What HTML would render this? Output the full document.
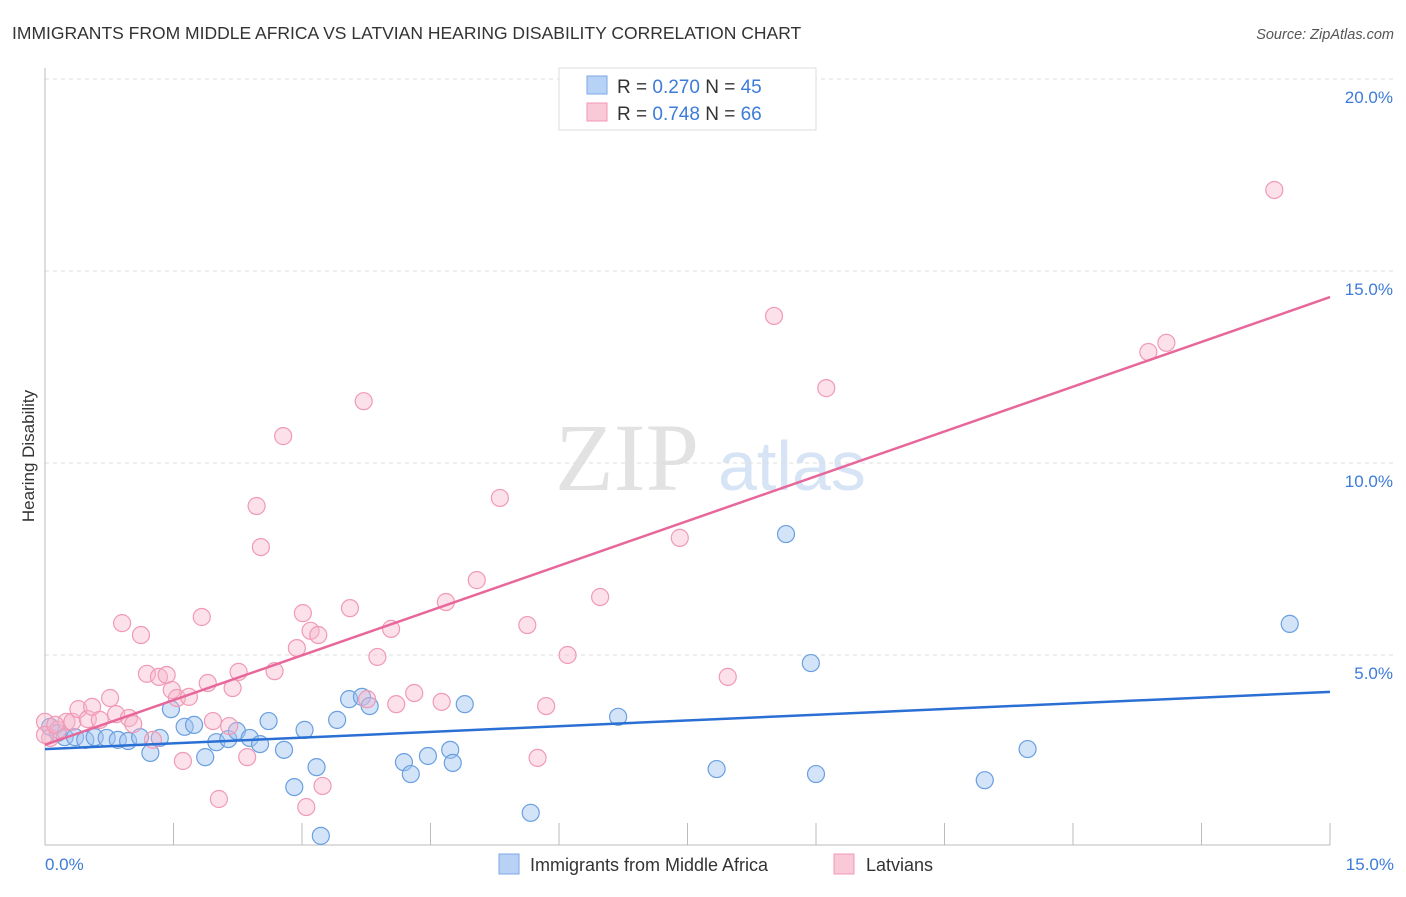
<!DOCTYPE html>
<html><head><meta charset="utf-8"><style>
body{margin:0;background:#fff;font-family:"Liberation Sans",sans-serif;}
</style></head><body>
<svg width="1406" height="892" xmlns="http://www.w3.org/2000/svg" font-family="Liberation Sans, sans-serif">
<text x="12" y="39" font-size="17.5" fill="#333">IMMIGRANTS FROM MIDDLE AFRICA VS LATVIAN HEARING DISABILITY CORRELATION CHART</text>
<text x="1394" y="39" font-size="14.5" fill="#555" font-style="italic" text-anchor="end">Source: ZipAtlas.com</text>
<text x="555" y="490" font-size="96" fill="#e2e2e2" font-family="Liberation Serif, serif">ZIP</text>
<text x="718" y="490" font-size="70" fill="#d6e4f5">atlas</text>
<g id="grid"></g>
<line x1="45" y1="68" x2="45" y2="845" stroke="#bbb"/>
<line x1="45" y1="845" x2="1330" y2="845" stroke="#bbb"/>
<g id="ticks"></g>
<text transform="translate(34,456) rotate(-90)" font-size="17" fill="#333" text-anchor="middle">Hearing Disability</text>
<text x="45" y="870" font-size="17" fill="#3d7bd8">0.0%</text>
<text x="1394" y="870" font-size="17" fill="#3d7bd8" text-anchor="end">15.0%</text>
<g id="pts"></g>
<g id="lines"></g>
<g>
<rect x="559" y="68" width="257" height="62" fill="#fff" stroke="#ddd"/>
<rect x="587" y="76" width="20" height="18" fill="#b7d2f5" stroke="#7aa8e6"/>
<rect x="587" y="103" width="20" height="18" fill="#fac9d8" stroke="#f098b4"/>
<text x="617" y="93" font-size="19" fill="#333">R = <tspan fill="#3d7bd8">0.270</tspan>   N = <tspan fill="#3d7bd8">45</tspan></text>
<text x="617" y="120" font-size="19" fill="#333">R = <tspan fill="#3d7bd8">0.748</tspan>   N = <tspan fill="#3d7bd8">66</tspan></text>
</g>
<g>
<rect x="499" y="854" width="20" height="20" fill="#b7d2f5" stroke="#7aa8e6"/>
<text x="530" y="871" font-size="18" fill="#333">Immigrants from Middle Africa</text>
<rect x="834" y="854" width="20" height="20" fill="#fac9d8" stroke="#f098b4"/>
<text x="866" y="871" font-size="18" fill="#333">Latvians</text>
</g>
</svg>
<script>
const yTicks=[5,10,15,20];
const yTickLabels=["5.0%","10.0%","15.0%","20.0%"];
const xTicks=[0,1.5,3,4.5,6,7.5,9,10.5,12,13.5,15];
const blueX=[0.06,0.15,0.23,0.35,0.47,0.58,0.72,0.85,0.97,1.11,1.23,1.34,1.47,1.63,1.74,1.87,2.00,2.14,2.24,2.39,2.51,2.61,2.79,2.91,3.03,3.17,3.22,3.41,3.55,3.70,3.79,4.19,4.27,4.47,4.73,4.76,4.90,5.67,6.69,7.84,8.65,8.94,9.00,10.97,11.47,14.53];
const blueY=[3.13,2.97,2.86,2.86,2.79,2.86,2.84,2.79,2.76,2.86,2.45,2.84,3.59,3.13,3.18,2.34,2.73,2.81,3.02,2.84,2.68,3.28,2.53,1.56,3.05,2.08,0.29,3.31,3.85,3.91,3.67,2.21,1.90,2.37,2.53,2.19,3.72,0.89,3.39,2.03,8.15,4.79,1.90,1.74,2.55,5.81];
const pinkX=[0.00,0.06,0.15,0.25,0.32,0.39,0.50,0.55,0.64,0.76,0.83,0.90,0.98,1.03,1.12,1.19,1.26,1.33,1.42,1.48,1.54,1.68,1.61,1.83,1.90,1.96,2.03,2.15,2.19,2.26,2.36,2.47,2.52,2.68,2.78,2.94,3.01,3.05,3.10,3.19,3.24,3.56,3.72,3.76,3.88,4.04,4.10,4.31,4.63,4.68,5.04,5.31,5.63,5.75,5.85,6.10,6.48,7.41,7.97,8.51,9.12,12.88,13.09,14.35,0.00,0.12];
const pinkY=[3.26,2.84,3.05,3.26,3.26,3.59,3.33,3.65,3.31,3.88,3.46,5.83,3.36,3.20,5.52,4.51,2.79,4.43,4.48,4.09,3.88,3.91,2.24,5.99,4.27,3.28,1.25,3.15,4.14,4.56,2.34,8.88,7.81,4.58,10.70,5.18,6.09,1.04,5.63,5.52,1.59,6.22,11.61,3.85,4.95,5.68,3.72,4.01,3.78,6.38,6.95,9.09,5.78,2.32,3.67,5.00,6.51,8.05,4.43,13.83,11.95,12.89,13.13,17.11,2.92,3.18];
const blueLine=[2.55,4.04];
const pinkLine=[2.66,14.32];
const xs=v=>45+v/15*1285;
const ys=v=>847-v/5*192;
const NS="http://www.w3.org/2000/svg";
function mk(tag,attrs,parent){const e=document.createElementNS(NS,tag);for(const k in attrs)e.setAttribute(k,attrs[k]);parent.appendChild(e);return e;}
const grid=document.getElementById('grid');
yTicks.forEach((t,i)=>{
 const l=mk('line',{x1:45,x2:1394,y1:ys(t),y2:ys(t),stroke:'#ddd','stroke-dasharray':'4,4'},grid);
 
 
 const tx=mk('text',{x:1393,y:ys(t)+24,'font-size':17,fill:'#3d7bd8','text-anchor':'end'},grid);
 tx.textContent=yTickLabels[i];
 
 
});
const ticks=document.getElementById('ticks');
xTicks.forEach(t=>{
 const l=mk('line',{x1:xs(t),x2:xs(t),y1:823,y2:845,stroke:'#bbb'},ticks);
 
 
});
const pts=document.getElementById('pts');
blueX.forEach((x,i)=>{
 const c=mk('circle',{cx:xs(x),cy:ys(blueY[i]),r:8.5,fill:'rgba(160,195,240,0.45)',stroke:'#6a9fe0','stroke-width':1.2},pts);
 
 
});
pinkX.forEach((x,i)=>{
 const c=mk('circle',{cx:xs(x),cy:ys(pinkY[i]),r:8.5,fill:'rgba(248,180,202,0.4)',stroke:'#f09ab5','stroke-width':1.2},pts);
 
 
});
const lines=document.getElementById('lines');
const bl=mk('line',{x1:xs(0),y1:ys(blueLine[0]),x2:xs(15),y2:ys(blueLine[1]),stroke:'#2a6fd4','stroke-width':2.5},lines);


const pl=mk('line',{x1:xs(0),y1:ys(pinkLine[0]),x2:xs(15),y2:ys(pinkLine[1]),stroke:'#e8679a','stroke-width':2.5},lines);


</script>
</body></html>
